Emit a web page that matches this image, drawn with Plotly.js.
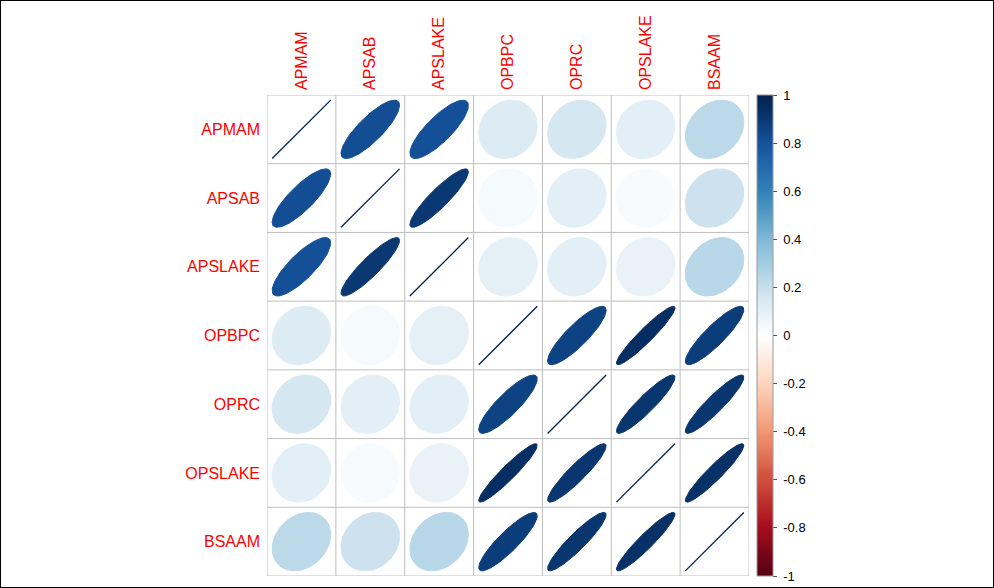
<!DOCTYPE html>
<html>
<head>
<meta charset="utf-8">
<script src="https://cdn.plot.ly/plotly-3.0.1.min.js"></script>
<style>
html,body{margin:0;padding:0;background:#fff;}
#wrap{position:relative;width:994px;height:588px;}
#chart{width:994px;height:588px;}
#frame{position:absolute;left:0;top:0;width:994px;height:588px;box-sizing:border-box;border:1px solid #000;pointer-events:none;}
</style>
</head>
<body>
<div id="wrap"><div id="chart"></div><div id="frame"></div></div>
<script>
// Variable names
const vars = ["APMAM", "APSAB", "APSLAKE", "OPBPC", "OPRC", "OPSLAKE", "BSAAM"];
// Correlation rows
const rAPMAM   = [1.0000, 0.8270, 0.8160, 0.1228, 0.1544, 0.1075, 0.2386];
const rAPSAB   = [0.8270, 1.0000, 0.9004, 0.0393, 0.1056, 0.0262, 0.1833];
const rAPSLAKE = [0.8160, 0.9004, 1.0000, 0.0987, 0.1064, 0.0872, 0.2490];
const rOPBPC   = [0.1228, 0.0393, 0.0987, 1.0000, 0.8653, 0.9433, 0.8857];
const rOPRC    = [0.1544, 0.1056, 0.1064, 0.8653, 1.0000, 0.9192, 0.9196];
const rOPSLAKE = [0.1075, 0.0262, 0.0872, 0.9433, 0.9192, 1.0000, 0.9384];
const rBSAAM   = [0.2386, 0.1833, 0.2490, 0.8857, 0.9196, 0.9384, 1.0000];
const corr = [rAPMAM, rAPSAB, rAPSLAKE, rOPBPC, rOPRC, rOPSLAKE, rBSAAM];
// Colorbar ticks
const cbTicks = [-1, -0.8, -0.6, -0.4, -0.2, 0, 0.2, 0.4, 0.6, 0.8, 1];
const cbTickText = ["-1", "-0.8", "-0.6", "-0.4", "-0.2", "0", "0.2", "0.4", "0.6", "0.8", "1"];
// corrplot RdBu palette
const palette = ["#67001F", "#B2182B", "#D6604D", "#F4A582", "#FDDBC7", "#FFFFFF",
                 "#D1E5F0", "#92C5DE", "#4393C3", "#2166AC", "#053061"];

function hex2rgb(h){return [parseInt(h.slice(1,3),16),parseInt(h.slice(3,5),16),parseInt(h.slice(5,7),16)];}
function colorFor(v){
  const nb = 200;
  let idx = Math.floor((v + 1) / 2 * nb); if (idx >= nb) idx = nb - 1; if (idx < 0) idx = 0;
  const t = idx / (nb - 1) * (palette.length - 1);
  const i = Math.min(Math.floor(t), palette.length - 2);
  const f = t - i;
  const a = hex2rgb(palette[i]), b = hex2rgb(palette[i+1]);
  // rendered slightly darker in the reference (display gamma)
  const c = a.map((x, k) => Math.round(255 * Math.pow((x + (b[k] - x) * f) / 255, 1.2)));
  return "rgb(" + c.join(",") + ")";
}

const n = vars.length;
const traces = [];
// grid lines
const gx = [], gy = [];
for (let k = 0; k <= n; k++) {
  gx.push(k + 0.5, k + 0.5, null); gy.push(0.5, n + 0.5, null);
  gx.push(0.5, n + 0.5, null); gy.push(k + 0.5, k + 0.5, null);
}
traces.push({type:"scatter", mode:"lines", x:gx, y:gy, line:{color:"#BEBEBE", width:1}, hoverinfo:"skip", showlegend:false});

// ellipses
const npts = 99;
for (let i = 0; i < n; i++) {
  for (let j = 0; j < n; j++) {
    const rho = corr[i][j];
    const cx = j + 1, cy = n - i;
    const d = Math.acos(Math.max(-1, Math.min(1, rho))) / 2;
    const xs = [], ys = [];
    for (let p = 0; p < npts; p++) {
      const k = 2 * Math.PI * p / (npts - 1);
      xs.push(cx + 0.85 * Math.cos(k + d) / 2);
      ys.push(cy + 0.85 * Math.cos(k - d) / 2);
    }
    const col = colorFor(rho);
    traces.push({type:"scatter", mode:"lines", x:xs, y:ys, fill:"toself", fillcolor:col,
      line:{color:col, width:rho >= 0.999 ? 1.3 : 1}, hoverinfo:"skip", showlegend:false});
  }
}

// colorbar carrier
const cs = [];
for (let k = 0; k <= 100; k++) cs.push([k / 100, colorFor(-1 + 2 * k / 100)]);
traces.push({type:"scatter", mode:"markers", x:[1, 1], y:[1, 1], hoverinfo:"skip", showlegend:false,
  marker:{size:1, opacity:0, color:[-1, 1], cmin:-1, cmax:1, colorscale:cs, showscale:true,
    colorbar:{x:1.0166, xanchor:"left", xpad:0, y:0.5, yanchor:"middle", ypad:0, len:1, lenmode:"fraction",
      thickness:16, thicknessmode:"pixels", outlinecolor:"#9a9a9a", outlinewidth:1,
      tickmode:"array", tickvals:cbTicks, ticktext:cbTickText.map(s => "\u00A0" + s), ticks:"outside", ticklen:4, tickcolor:"#555",
      tickfont:{family:"Liberation Sans, Arial, sans-serif", size:13, color:"#000"}}}});

const layout = {
  width:994, height:588,
  margin:{l:267, r:245, t:95, b:12, pad:0},
  paper_bgcolor:"#fff", plot_bgcolor:"#fff",
  showlegend:false,
  xaxis:{range:[0.5, n + 0.5], side:"top", tickmode:"array", tickvals:vars.map((v, k) => k + 1), ticktext:vars,
    tickangle:-90, ticks:"", showgrid:false, zeroline:false, showline:false, fixedrange:true,
    ticklabelstandoff:4,
    tickfont:{family:"Liberation Sans, Arial, sans-serif", size:16, color:"red"}},
  yaxis:{range:[0.5, n + 0.5], tickmode:"array", tickvals:vars.map((v, k) => n - k), ticktext:vars,
    ticks:"", showgrid:false, zeroline:false, showline:false, fixedrange:true,
    ticklabelstandoff:6,
    tickfont:{family:"Liberation Sans, Arial, sans-serif", size:16, color:"red"}}
};
Plotly.newPlot("chart", traces, layout, {displayModeBar:false, staticPlot:true});
</script>
</body>
</html>
